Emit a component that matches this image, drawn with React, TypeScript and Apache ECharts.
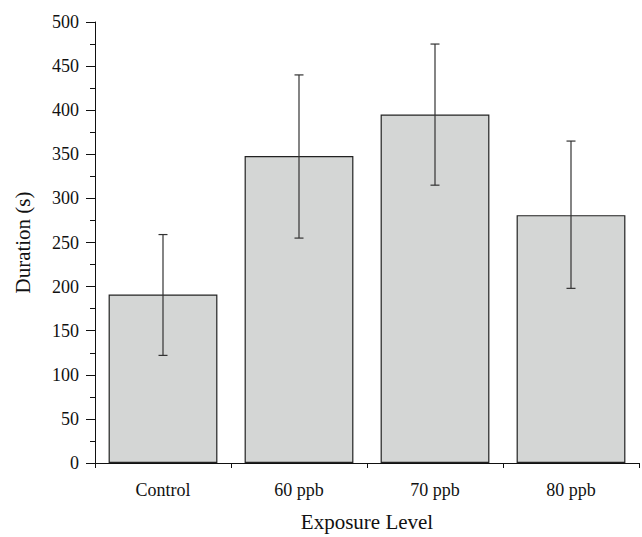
import React, { useEffect, useRef } from "react";
import * as echarts from "echarts";

const categories = ["Control", "60 ppb", "70 ppb", "80 ppb"];
const means = [191, 348, 395, 281];
const errLow = [122, 255, 315, 198];
const errHigh = [259, 440, 475, 365];
const yTicks = [0, 50, 100, 150, 200, 250, 300, 350, 400, 450, 500];

const FONT = "'Liberation Serif', 'Times New Roman', serif";

export default function App() {
  const ref = useRef<HTMLDivElement>(null);
  useEffect(() => {
    document.body.style.margin = "0";
    if (!ref.current) return;
    const chart = echarts.init(ref.current, undefined, { renderer: "svg" });
    const errData = categories.map((_, i) => [i, errLow[i], errHigh[i]]);
    chart.setOption({
      animation: false,
      textStyle: { fontFamily: FONT },
      grid: { left: 95, right: 3, top: 22, bottom: 72, containLabel: false },
      xAxis: [
        {
          type: "category",
          data: categories,
          name: "Exposure Level",
          nameLocation: "middle",
          nameGap: 48,
          nameTextStyle: { fontFamily: FONT, fontSize: 21, color: "#111" },
          axisLine: { lineStyle: { color: "#111", width: 1 } },
          axisTick: { alignWithLabel: true, length: 9, lineStyle: { color: "#111" } },
          axisLabel: { fontFamily: FONT, fontSize: 18, color: "#111", margin: 18 },
          splitLine: { show: false },
        },
        {
          type: "category",
          data: categories,
          position: "bottom",
          axisLine: { show: false },
          axisTick: { show: true, length: 5, lineStyle: { color: "#111" } },
          axisLabel: { show: false },
          splitLine: { show: false },
        },
      ],
      yAxis: {
        type: "value",
        min: 0,
        max: 500,
        interval: 50,
        name: "Duration (s)",
        nameLocation: "middle",
        nameGap: 62,
        nameTextStyle: { fontFamily: FONT, fontSize: 21, color: "#111" },
        axisLine: { show: true, lineStyle: { color: "#111", width: 1 } },
        axisTick: { show: true, length: 9, lineStyle: { color: "#111" } },
        minorTick: { show: true, splitNumber: 2, length: 5, lineStyle: { color: "#111" } },
        axisLabel: {
          fontFamily: FONT,
          fontSize: 18,
          color: "#111",
          margin: 16,
          formatter: (v: number) => (yTicks.includes(v) ? String(v) : ""),
        },
        splitLine: { show: false },
      },
      series: [
        {
          type: "bar",
          data: means,
          barWidth: "80%",
          itemStyle: { color: "#d4d6d5", borderColor: "#222", borderWidth: 1.2 },
        },
        {
          type: "custom",
          data: errData,
          z: 10,
          renderItem: (params: any, api: any) => {
            const x = api.value(0);
            const lo = api.coord([x, api.value(1)]);
            const hi = api.coord([x, api.value(2)]);
            const cap = 4.5;
            const style = { stroke: "#333", lineWidth: 1.2 };
            return {
              type: "group",
              children: [
                { type: "line", shape: { x1: lo[0], y1: lo[1], x2: hi[0], y2: hi[1] }, style },
                { type: "line", shape: { x1: hi[0] - cap, y1: hi[1], x2: hi[0] + cap, y2: hi[1] }, style },
                { type: "line", shape: { x1: lo[0] - cap, y1: lo[1], x2: lo[0] + cap, y2: lo[1] }, style },
              ],
            };
          },
        },
      ],
    });
    return () => chart.dispose();
  }, []);
  return <div ref={ref} style={{ width: 642, height: 537 }} />;
}
